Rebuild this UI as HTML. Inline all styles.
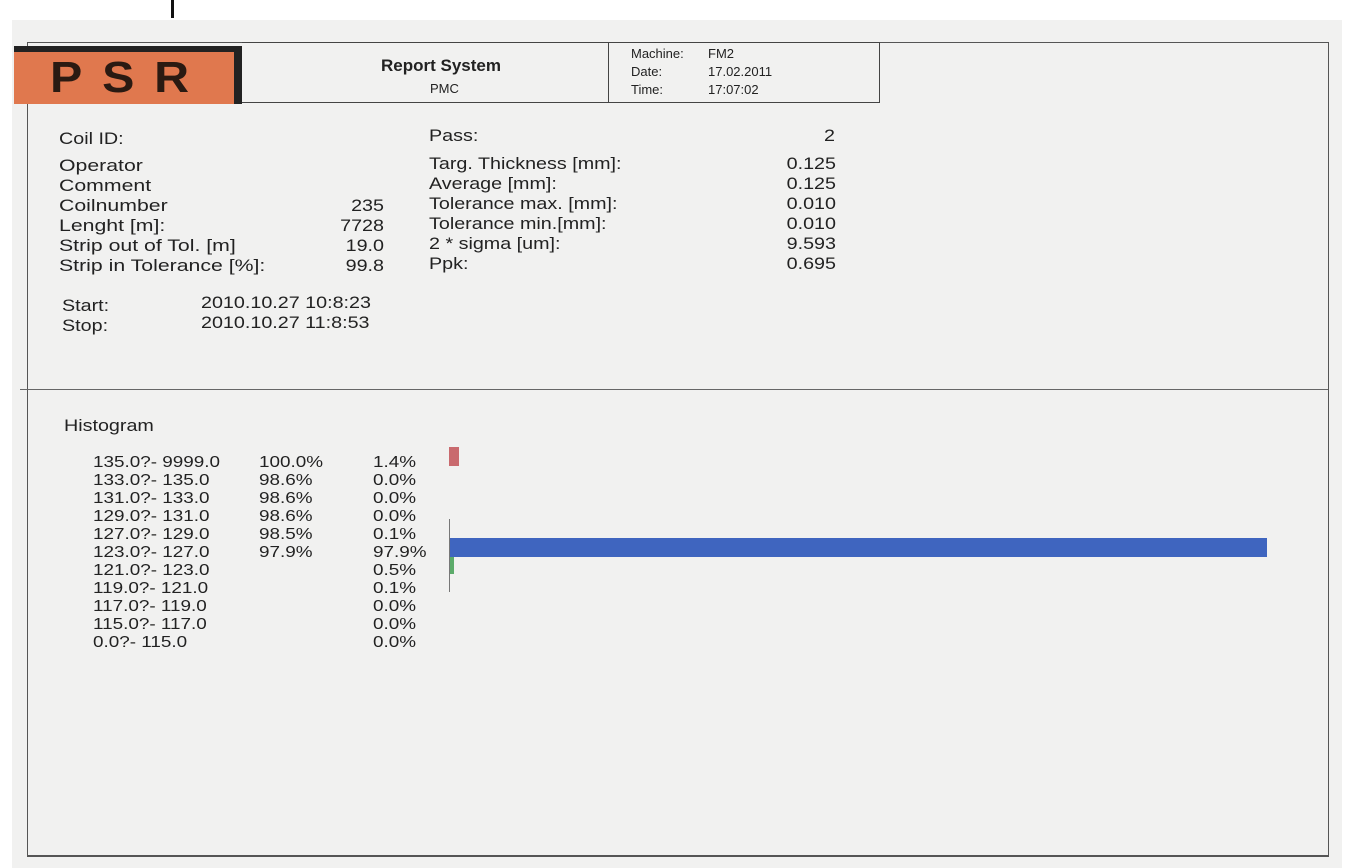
<!DOCTYPE html>
<html><head><meta charset="utf-8"><style>
body{margin:0;width:1354px;height:868px;background:#fff;position:relative;overflow:hidden;font-family:"Liberation Sans",Arial,sans-serif;color:#222}
.a{position:absolute;white-space:nowrap}
.t{font-size:17px;line-height:20px;transform:scaleX(1.16);transform-origin:left top}
.h{font-size:16px;line-height:18px;transform:scaleX(1.18);transform-origin:left top}
.r{text-align:right;transform-origin:right top}
</style></head><body>
<div class="a" style="left:171px;top:0;width:3px;height:18px;background:#111"></div>
<div class="a" style="left:12px;top:20px;width:1330px;height:848px;background:#f1f1f0"></div>
<div class="a" style="left:27px;top:42px;width:1300px;height:812px;border:1px solid #555;border-bottom:2px solid #555"></div>
<div class="a" style="left:20px;top:389px;width:1308px;height:1px;background:#666"></div>
<div class="a" style="left:14px;top:46px;width:228px;height:58px;background:#222"></div>
<div class="a" style="left:14px;top:52px;width:220px;height:52px;background:#e0784e"></div>
<div class="a" style="left:50px;top:52px;font-size:44px;font-weight:bold;letter-spacing:18px;color:#2a1a12;line-height:52px;transform:scaleX(1.1);transform-origin:left top">PSR</div>
<div class="a" style="left:242px;top:42px;width:637px;height:59px;border:1px solid #444;border-left:none"></div>
<div class="a" style="left:608px;top:42px;width:1px;height:60px;background:#444"></div>
<div class="a" style="left:381px;top:56px;font-size:17px;font-weight:bold">Report System</div>
<div class="a" style="left:430px;top:81px;font-size:13px">PMC</div>
<div class="a" style="left:631px;top:45px;font-size:13px;line-height:18px">Machine:<br>Date:<br>Time:</div>
<div class="a" style="left:708px;top:45px;font-size:13px;line-height:18px">FM2<br>17.02.2011<br>17:07:02</div>
<div class="a t" style="left:59px;top:129px">Coil ID:</div>
<div class="a t" style="left:59px;top:156px;transform:scaleX(1.25)">Operator<br>Comment<br>Coilnumber<br>Lenght [m]:<br>Strip out of Tol. [m]<br>Strip in Tolerance [%]:</div>
<div class="a t r" style="left:300px;width:84px;top:196px">235<br>7728<br>19.0<br>99.8</div>
<div class="a t" style="left:62px;top:296px">Start:<br>Stop:</div>
<div class="a t" style="left:201px;top:293px">2010.10.27 10:8:23<br>2010.10.27 11:8:53</div>
<div class="a t" style="left:429px;top:126px">Pass:</div>
<div class="a t" style="left:429px;top:154px">Targ. Thickness [mm]:<br>Average [mm]:<br>Tolerance max. [mm]:<br>Tolerance min.[mm]:<br>2 * sigma [um]:<br>Ppk:</div>
<div class="a t r" style="left:740px;width:95px;top:126px">2</div>
<div class="a t r" style="left:740px;width:96px;top:154px">0.125<br>0.125<br>0.010<br>0.010<br>9.593<br>0.695</div>
<div class="a t" style="left:64px;top:416px">Histogram</div>
<div class="a h" style="left:93px;top:454px">135.0?- 9999.0<br>133.0?- 135.0<br>131.0?- 133.0<br>129.0?- 131.0<br>127.0?- 129.0<br>123.0?- 127.0<br>121.0?- 123.0<br>119.0?- 121.0<br>117.0?- 119.0<br>115.0?- 117.0<br>0.0?- 115.0</div>
<div class="a h" style="left:259px;top:454px">100.0%<br>98.6%<br>98.6%<br>98.6%<br>98.5%<br>97.9%</div>
<div class="a h" style="left:373px;top:454px">1.4%<br>0.0%<br>0.0%<br>0.0%<br>0.1%<br>97.9%<br>0.5%<br>0.1%<br>0.0%<br>0.0%<br>0.0%</div>
<div class="a" style="left:449px;top:447px;width:10px;height:19px;background:#c96a6e"></div>
<div class="a" style="left:449px;top:519px;width:1px;height:73px;background:#777"></div>
<div class="a" style="left:450px;top:538px;width:817px;height:19px;background:#3f65bf"></div>
<div class="a" style="left:450px;top:557px;width:4px;height:17px;background:#5cab6a"></div>
</body></html>
